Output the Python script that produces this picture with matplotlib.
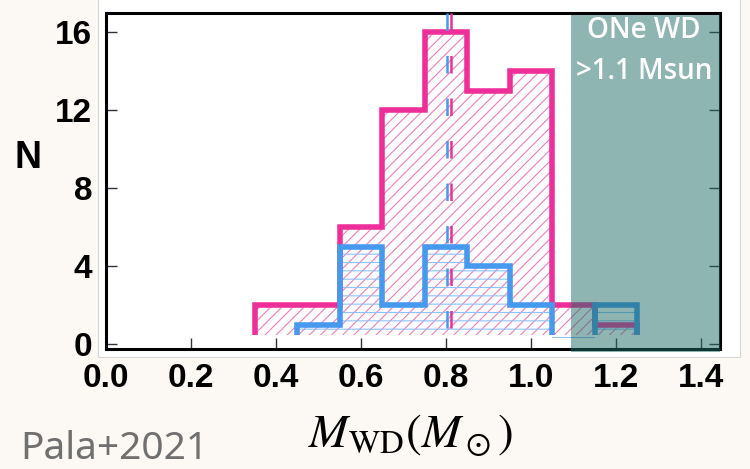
import numpy as np
import matplotlib
matplotlib.use("Agg")
import matplotlib.pyplot as plt
from matplotlib.patches import Rectangle

# histogram data
pink_edges = [0.35, 0.45, 0.55, 0.65, 0.75, 0.85, 0.95, 1.05, 1.15, 1.25]
pink_counts = [2, 2, 6, 12, 16, 13, 14, 2, 1]
blue_edges = [0.45, 0.55, 0.65, 0.75, 0.85, 0.95, 1.05, 1.15, 1.25]
blue_counts = [1, 5, 2, 5, 4, 2, 0, 2]
pink_median = 0.813
blue_median = 0.802
one_wd_limit = 1.094
xticks = [0.0, 0.2, 0.4, 0.6, 0.8, 1.0, 1.2, 1.4]
yticks = [0, 4, 8, 12, 16]

PINK = "#ee2f9a"
BLUE = "#4599ef"
BASE = 0.45

plt.rcParams["hatch.linewidth"] = 0.8
plt.rcParams["mathtext.fontset"] = "stix"

fig = plt.figure(figsize=(7.5, 4.69), dpi=100, facecolor="#fcf9f4")
# white panel of the original figure
fig.add_artist(Rectangle((98 / 750, 1 - 357 / 469), 642 / 750, 357 / 469 + 0.01,
                         transform=fig.transFigure, facecolor="white",
                         edgecolor="#d6d6d6", lw=0.8, zorder=-5))

ax = fig.add_axes([106 / 750, 1 - 349 / 469, 614 / 750, 336 / 469])
ax.set_facecolor("white")

# hatched fills
ax.stairs(pink_counts, pink_edges, baseline=BASE, fill=True, facecolor="none",
          edgecolor="#f27cbd", lw=0, hatch="///", zorder=2)
ax.stairs(blue_counts, blue_edges, baseline=BASE, fill=True, facecolor="none",
          edgecolor="#8ec1f6", lw=0, hatch="--", zorder=2.1)

# outlines
ax.stairs(pink_counts, pink_edges, baseline=BASE, fill=False, color=PINK, lw=4, zorder=3)
ax.stairs(blue_counts[:6], blue_edges[:7], baseline=BASE, fill=False, color=BLUE, lw=4, zorder=3.1)
ax.stairs(blue_counts[7:], blue_edges[7:], baseline=BASE, fill=False, color=BLUE, lw=4, zorder=3.1)

# medians
ax.plot([blue_median, blue_median], [17, -0.25], color=BLUE, lw=1.8, dashes=(7, 10), zorder=4)
ax.plot([pink_median, pink_median], [17, -0.25], color=PINK, lw=1.8, dashes=(7, 10), zorder=4)

ax.set_xlim(0, 1.445)
ax.set_ylim(-0.25, 17)

# ONe WD region
ax.axvspan(one_wd_limit, 1.445, ymin=-0.009, ymax=0.994, facecolor="#1f6d65",
           alpha=0.5, lw=0, zorder=5, clip_on=False)
ax.text(1.266, 16.1, "ONe WD", color="white", fontsize=20, family="Open Sans",
        fontweight="semibold", ha="center", va="center", zorder=6)
ax.text(1.266, 14.0, ">1.1 Msun", color="white", fontsize=20, family="Open Sans",
        fontweight="semibold", ha="center", va="center", zorder=6)

for s in ax.spines.values():
    s.set_linewidth(2.2)
ax.set_xticks(xticks)
ax.set_yticks(yticks)
ax.set_xticklabels([f"{t:.1f}" for t in xticks])
ax.set_yticklabels([str(t) for t in yticks])
ax.tick_params(direction="in", length=8, width=1, color="#333333",
               left=True, right=True, top=False, bottom=True, pad=10)
for lab in ax.get_xticklabels() + ax.get_yticklabels():
    lab.set_fontfamily("Liberation Sans")
    lab.set_fontweight("bold")
    lab.set_fontsize(24)

fig.text(28 / 750, 1 - 158 / 469, "N", fontsize=27, fontweight="bold",
         family="Liberation Sans", ha="center", va="center")

fig.text(410 / 750, 1 - 448 / 469, r"$M_{\rm WD}(M_\odot)$", fontsize=34,
         ha="center", va="baseline")
fig.text(20 / 750, 1 - 459 / 469, "Pala+2021", fontsize=28, color="#707070",
         family="Noto Sans", ha="left", va="baseline")

fig.savefig("out.png", dpi=100, facecolor=fig.get_facecolor())
